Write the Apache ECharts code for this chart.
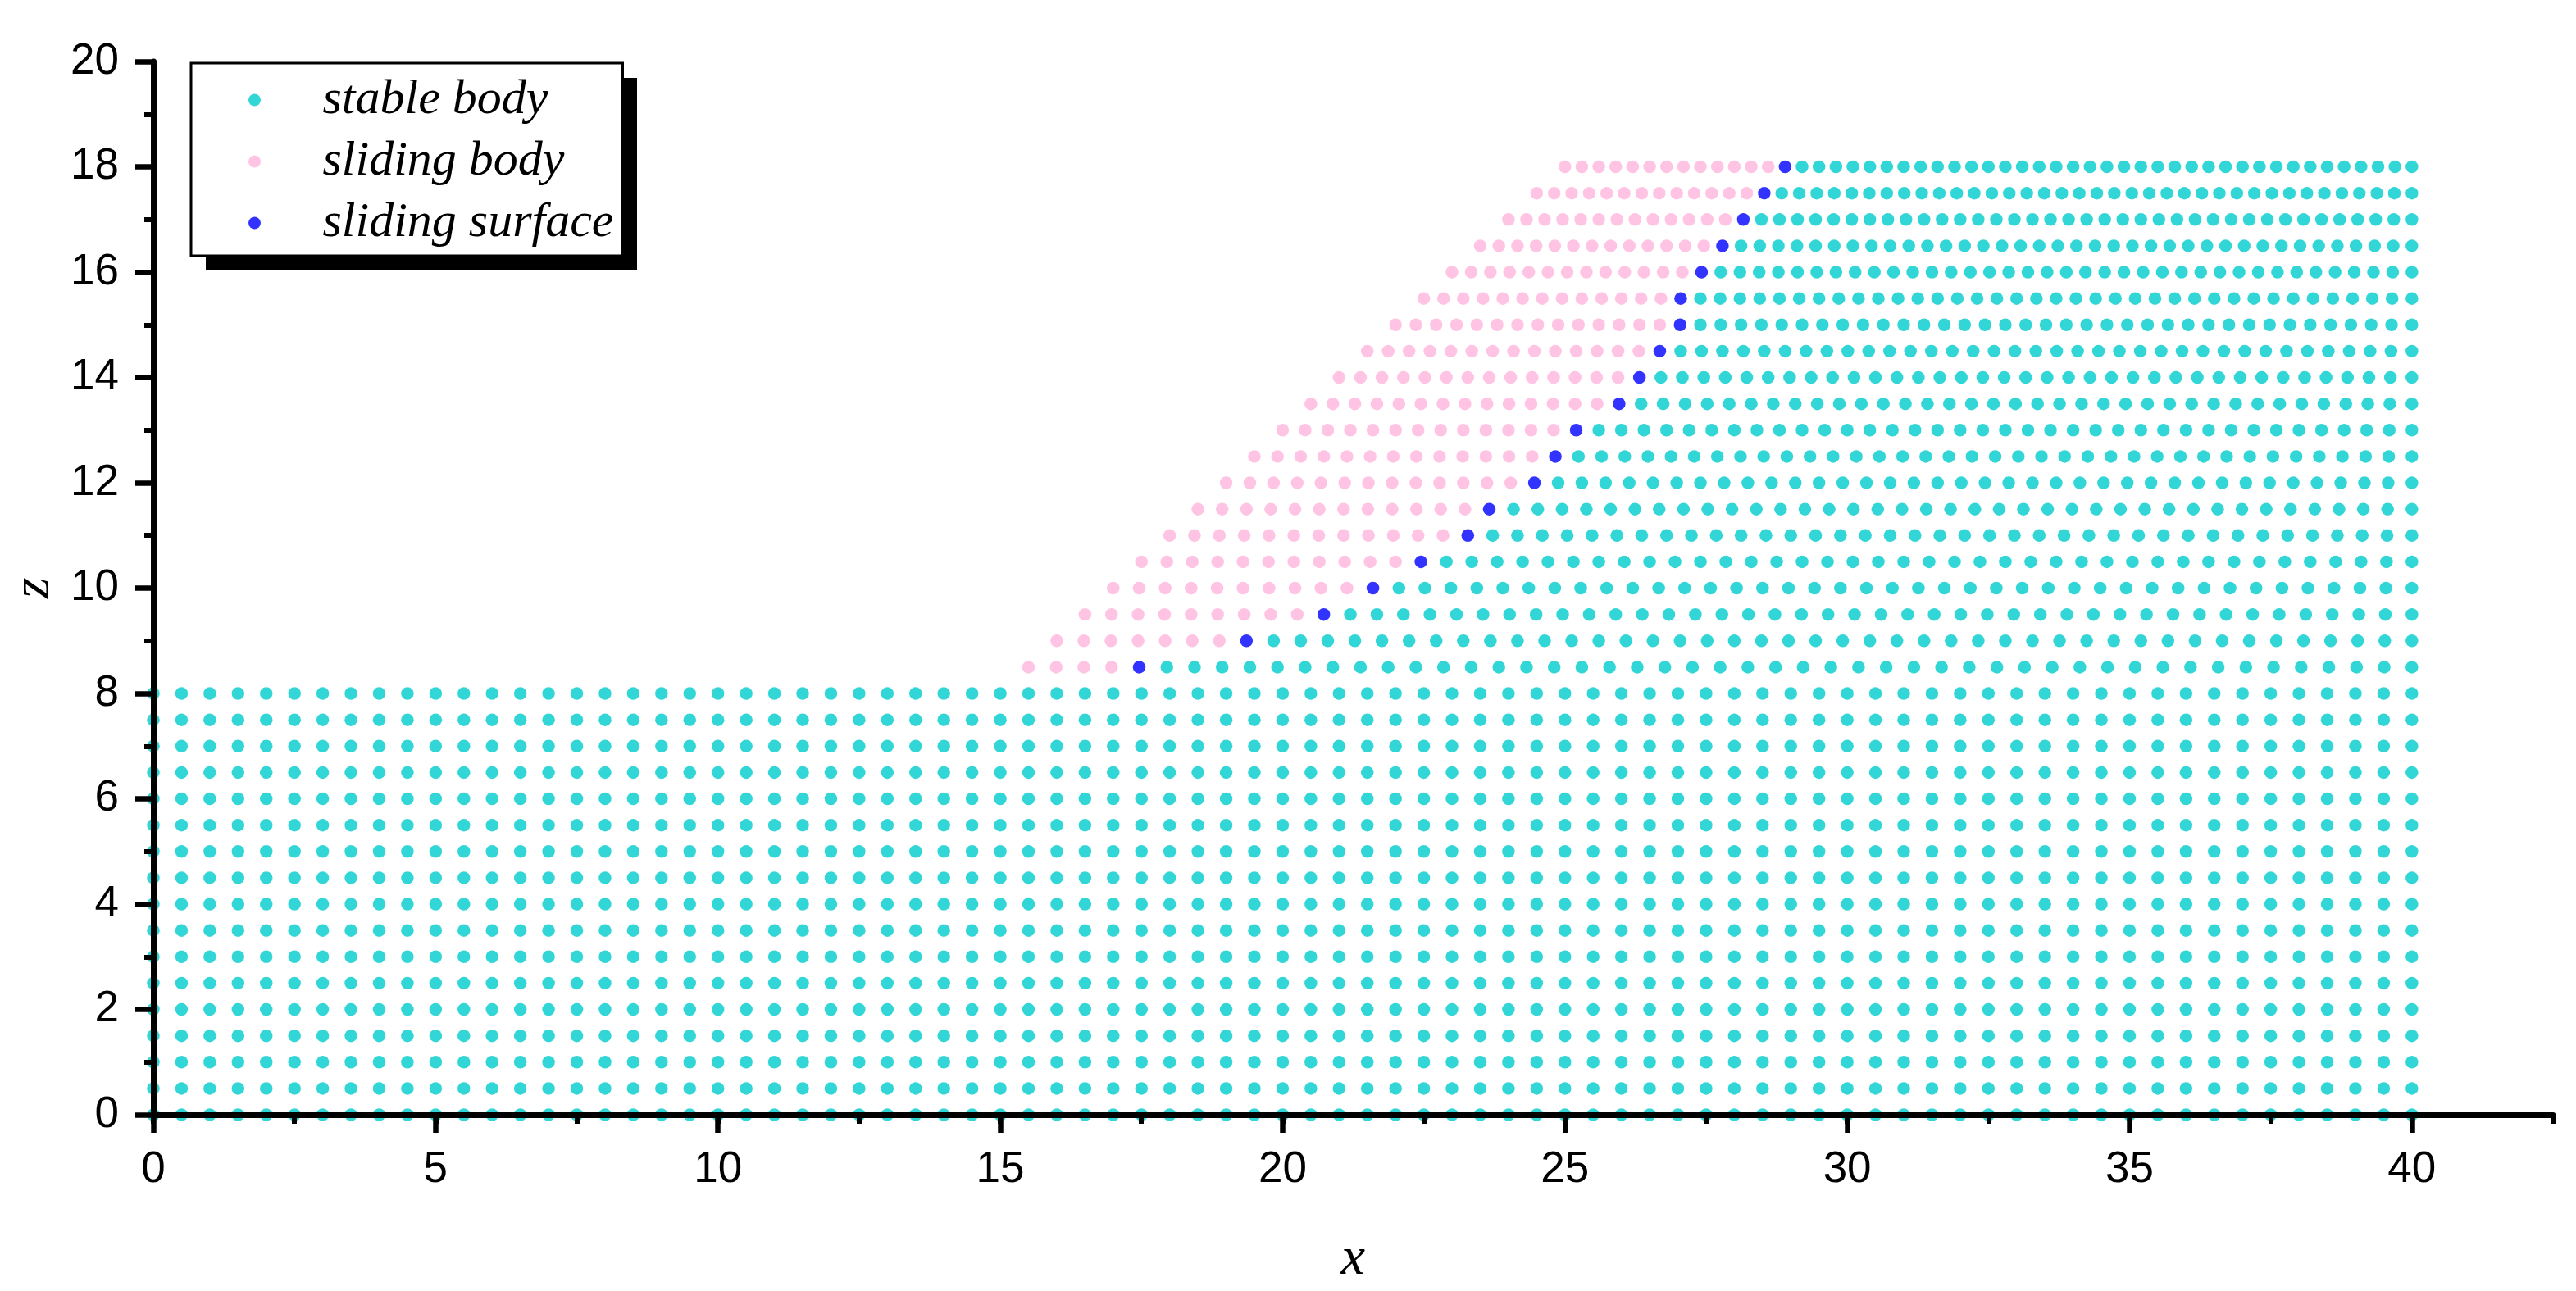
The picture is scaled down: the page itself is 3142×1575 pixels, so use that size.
<!DOCTYPE html>
<html>
<head>
<meta charset="utf-8">
<script src="https://cdn.jsdelivr.net/npm/echarts@6/dist/echarts.min.js"></script>
<style>
html,body{margin:0;padding:0;background:#fff;}
#chart{width:3142px;height:1575px;}
</style>
</head>
<body>
<div id="chart"></div>
<script>
// ---- tick labels ----
const xTickValues = [0, 5, 10, 15, 20, 25, 30, 35, 40];
const zTickValues = [0, 2, 4, 6, 8, 10, 12, 14, 16, 18, 20];

// ---- series names ----
const seriesNames = ['stable body', 'sliding body', 'sliding surface'];

// ---- lower block (z <= 8): regular nodes 0..40 every 0.5 ----
const lowerRowZ = [0, 0.5, 1, 1.5, 2, 2.5, 3, 3.5, 4, 4.5, 5, 5.5, 6, 6.5, 7, 7.5, 8];
const lowerRowX = [0, 0.5, 1, 1.5, 2, 2.5, 3, 3.5, 4, 4.5, 5, 5.5, 6, 6.5, 7, 7.5, 8, 8.5, 9, 9.5,
  10, 10.5, 11, 11.5, 12, 12.5, 13, 13.5, 14, 14.5, 15, 15.5, 16, 16.5, 17, 17.5, 18, 18.5, 19, 19.5,
  20, 20.5, 21, 21.5, 22, 22.5, 23, 23.5, 24, 24.5, 25, 25.5, 26, 26.5, 27, 27.5, 28, 28.5, 29, 29.5,
  30, 30.5, 31, 31.5, 32, 32.5, 33, 33.5, 34, 34.5, 35, 35.5, 36, 36.5, 37, 37.5, 38, 38.5, 39, 39.5, 40];

// ---- slope block (z > 8): each row has 51 nodes from the slope face to x = 40 ----
const upperRowZ      = [8.5, 9, 9.5, 10, 10.5, 11, 11.5, 12, 12.5, 13, 13.5, 14, 14.5, 15, 15.5, 16, 16.5, 17, 17.5, 18];
const upperRowStartX = [15.5, 16, 16.5, 17, 17.5, 18, 18.5, 19, 19.5, 20, 20.5, 21, 21.5, 22, 22.5, 23, 23.5, 24, 24.5, 25];
const upperRowEndX   = [40, 40, 40, 40, 40, 40, 40, 40, 40, 40, 40, 40, 40, 40, 40, 40, 40, 40, 40, 40];
const upperRowNodes  = [51, 51, 51, 51, 51, 51, 51, 51, 51, 51, 51, 51, 51, 51, 51, 51, 51, 51, 51, 51];
// index (within the row) of the sliding-surface node; nodes before it are sliding body
const surfaceNodeIndex = [4, 7, 9, 10, 11, 12, 12, 13, 13, 13, 14, 14, 14, 14, 13, 13, 13, 13, 13, 13];

// ---- build point lists ----
const stablePts = [], slidingPts = [], surfacePts = [];
lowerRowZ.forEach(z => lowerRowX.forEach(x => stablePts.push([x, z])));
upperRowZ.forEach((z, i) => {
  const n = upperRowNodes[i];
  const x0 = upperRowStartX[i], x1 = upperRowEndX[i];
  for (let j = 0; j < n; j++) {
    const x = +(x0 + (x1 - x0) * j / (n - 1)).toFixed(4);
    if (j < surfaceNodeIndex[i]) slidingPts.push([x, z]);
    else if (j === surfaceNodeIndex[i]) surfacePts.push([x, z]);
    else stablePts.push([x, z]);
  }
});

const colors = ['#00CCCC', '#FFB5DD', '#0000FF'];
const dataSets = [stablePts, slidingPts, surfacePts];

const chart = echarts.init(document.getElementById('chart'), null, {renderer: 'canvas'});

const axisFont = 'Liberation Sans, Arial, sans-serif';
const serifFont = 'Liberation Serif, Times New Roman, serif';

const option = {
  animation: false,
  backgroundColor: '#fff',
  grid: {left: 187, right: 28, top: 75, bottom: 213},
  legend: {
    orient: 'vertical',
    left: 233, top: 77,
    icon: 'circle',
    itemWidth: 156, itemHeight: 15, itemGap: 15,
    padding: [15, 11, 10, 70],
    backgroundColor: '#fff',
    borderColor: '#000', borderWidth: 3,
    z: 10,
    textStyle: {fontFamily: serifFont, fontStyle: 'italic', fontSize: 60, lineHeight: 60, color: '#000'},
    data: seriesNames
  },
  graphic: [{
    type: 'rect', left: 251, top: 95, z: 9,
    shape: {width: 526, height: 235},
    style: {fill: '#000'}
  }],
  xAxis: [{
    type: 'value', position: 'bottom', min: 0, max: 42.5, interval: 2.5, z: 5,
    axisLine: {show: true, onZero: false, lineStyle: {color: '#000', width: 7}},
    axisTick: {show: true, inside: false, length: 11, lineStyle: {color: '#000', width: 6}},
    axisLabel: {
      formatter: v => (xTickValues.indexOf(Math.round(v * 100) / 100) >= 0 ? String(Math.round(v)) : ''),
      fontFamily: axisFont, fontSize: 53, color: '#000', margin: 41
    },
    splitLine: {show: false},
    name: 'x', nameLocation: 'middle', nameGap: 144,
    nameTextStyle: {fontFamily: serifFont, fontStyle: 'italic', fontSize: 66, color: '#000'}
  }, {
    type: 'value', position: 'bottom', min: 0, max: 42.5, z: 5,
    axisLine: {show: false, onZero: false},
    axisTick: {show: true, inside: false, customValues: xTickValues, length: 22, lineStyle: {color: '#000', width: 6.5}},
    axisLabel: {show: false},
    splitLine: {show: false}
  }],
  yAxis: {
    type: 'value', min: 0, max: 20, interval: 2, z: 5,
    axisLine: {show: true, onZero: false, lineStyle: {color: '#000', width: 7}},
    axisTick: {show: true, inside: false, length: 22, lineStyle: {color: '#000', width: 6.5}},
    minorTick: {show: true, splitNumber: 2, length: 11, lineStyle: {color: '#000', width: 6}},
    axisLabel: {
      formatter: v => (zTickValues.indexOf(v) >= 0 ? String(v) : ''),
      fontFamily: axisFont, fontSize: 53, color: '#000', margin: 42
    },
    splitLine: {show: false},
    minorSplitLine: {show: false},
    name: 'z', nameLocation: 'middle', nameRotate: 90, nameGap: 104,
    nameTextStyle: {fontFamily: serifFont, fontStyle: 'italic', fontSize: 66, color: '#000'}
  },
  series: seriesNames.map((name, k) => ({
    name: name,
    type: 'scatter',
    xAxisIndex: 0, yAxisIndex: 0,
    symbol: 'circle',
    symbolSize: 15.5,
    large: false,
    progressive: 0,
    z: 2,
    itemStyle: {color: colors[k]},
    emphasis: {disabled: true},
    data: dataSets[k]
  }))
};

chart.setOption(option);
</script>
</body>
</html>
